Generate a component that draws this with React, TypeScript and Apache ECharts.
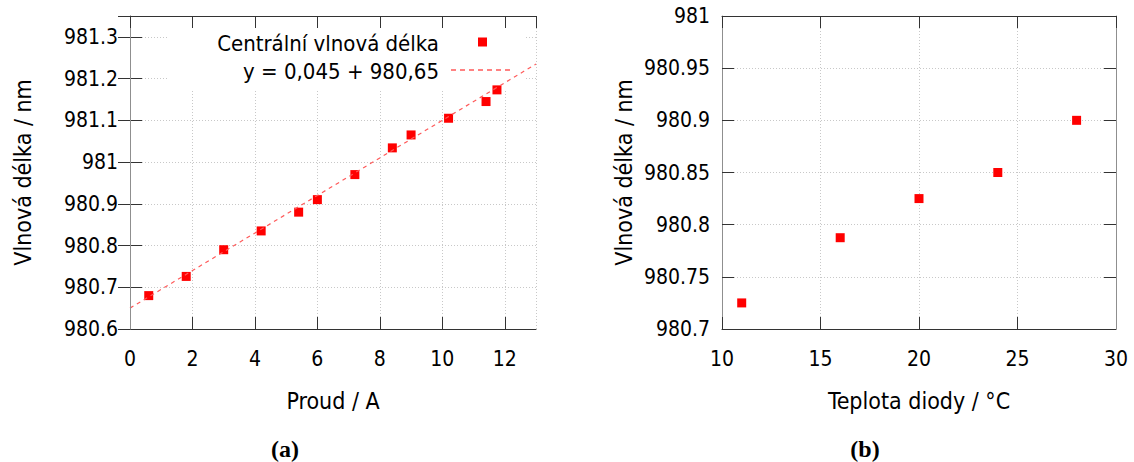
import React, { useEffect, useRef } from 'react';
import * as echarts from 'echarts';

// ---- Data ----
const currentA = [0.6, 1.8, 3.0, 4.2, 5.4, 6.0, 7.2, 8.4, 9.0, 10.2, 11.4, 11.75];
const wavelengthA = [980.68, 980.726, 980.79, 980.835, 980.88, 980.91, 980.97, 981.034, 981.065, 981.105, 981.145, 981.173];
const fitX = [0, 13];
const fitY = [980.65, 981.235];
const tempB = [11, 16, 20, 24, 28];
const wavelengthB = [980.725, 980.7875, 980.825, 980.85, 980.9];

const seriesNameA = 'Centrální vlnová délka';
const fitName = 'y = 0,045 + 980,65';
const seriesNameB = 'Centrální vlnová délka (b)';
const xTitleA = 'Proud / A';
const xTitleB = 'Teplota diody / °C';
const yTitle = 'Vlnová délka / nm';
const captionA = '(a)';
const captionB = '(b)';

const FONT = "'DejaVu Sans Condensed', 'DejaVu Sans', sans-serif";
const DARK = '#333333';
const LIGHT = '#8f8f8f';
const GRIDC = '#c8c8c8';
const RED = '#ff0000';
const FITRED = '#ff5a5a';

const tick = { show: true, inside: true, length: 12, lineStyle: { color: DARK, width: 1 } };
const split = { show: true, lineStyle: { color: GRIDC, type: [1, 2] as any, width: 1 } };
const tickLabel = (extra: any = {}) => ({ fontSize: 21, color: '#000', fontFamily: FONT, ...extra });
const nameStyle = { fontSize: 23, color: '#000', fontFamily: FONT };
const legendText = { fontSize: 22, fontFamily: FONT, fill: '#000', align: 'right', verticalAlign: 'middle' };
const captionStyle = { fontSize: 24, fontWeight: 'bold', fontFamily: "'Liberation Serif', serif", fill: '#000', align: 'center', verticalAlign: 'middle' };

export default function App() {
  const ref = useRef<HTMLDivElement>(null);
  useEffect(() => {
    if (!ref.current) return;
    const chart = echarts.init(ref.current, undefined, { renderer: 'svg' });
    const option: any = {
      animation: false,
      backgroundColor: '#ffffff',
      grid: [
        { left: 130, top: 16, width: 406, height: 313, outerBoundsMode: 'none' },
        { left: 722, top: 16, width: 394, height: 313, outerBoundsMode: 'none' },
      ],
      xAxis: [
        {
          type: 'value', gridIndex: 0, position: 'bottom', min: 0, max: 13, interval: 2,
          axisLine: { show: true, lineStyle: { color: DARK } }, axisTick: tick,
          axisLabel: tickLabel({ margin: 19, showMaxLabel: false }), splitLine: split,
          name: xTitleA, nameLocation: 'middle', nameGap: 60, nameTextStyle: nameStyle, z: 0,
        },
        {
          type: 'value', gridIndex: 0, position: 'top', min: 0, max: 13, interval: 2,
          axisLine: { show: true, lineStyle: { color: DARK } }, axisTick: tick,
          axisLabel: { show: false }, splitLine: { show: false }, z: 5,
        },
        {
          type: 'value', gridIndex: 1, position: 'bottom', min: 10, max: 30, interval: 5,
          axisLine: { show: true, lineStyle: { color: DARK } }, axisTick: tick,
          axisLabel: tickLabel({ margin: 19 }), splitLine: split,
          name: xTitleB, nameLocation: 'middle', nameGap: 60, nameTextStyle: nameStyle, z: 0,
        },
        {
          type: 'value', gridIndex: 1, position: 'top', min: 10, max: 30, interval: 5,
          axisLine: { show: true, lineStyle: { color: DARK } }, axisTick: tick,
          axisLabel: { show: false }, splitLine: { show: false }, z: 5,
        },
      ],
      yAxis: [
        {
          type: 'value', gridIndex: 0, position: 'left', min: 980.6, max: 981.35, interval: 0.1,
          axisLine: { show: true, lineStyle: { color: LIGHT } }, axisTick: tick,
          axisLabel: tickLabel({ margin: 12, showMaxLabel: false }), splitLine: split,
          name: yTitle, nameLocation: 'middle', nameGap: 96, nameRotate: 90, nameTextStyle: nameStyle, z: 0,
        },
        {
          type: 'value', gridIndex: 0, position: 'right', min: 980.6, max: 981.35, interval: 0.1,
          axisLine: { show: true, lineStyle: { color: LIGHT } }, axisTick: tick,
          axisLabel: { show: false }, splitLine: { show: false }, z: 5,
        },
        {
          type: 'value', gridIndex: 1, position: 'left', min: 980.7, max: 981, interval: 0.05,
          axisLine: { show: true, lineStyle: { color: LIGHT } }, axisTick: tick,
          axisLabel: tickLabel({ margin: 12 }), splitLine: split,
          name: yTitle, nameLocation: 'middle', nameGap: 87, nameRotate: 90, nameTextStyle: nameStyle, z: 0,
        },
        {
          type: 'value', gridIndex: 1, position: 'right', min: 980.7, max: 981, interval: 0.05,
          axisLine: { show: true, lineStyle: { color: LIGHT } }, axisTick: tick,
          axisLabel: { show: false }, splitLine: { show: false }, z: 5,
        },
      ],
      graphic: {
        elements: [
          // opaque key box (hides the grid behind the key, as in the reference)
          { type: 'rect', silent: true, z: 1, shape: { x: 168, y: 17, width: 356, height: 72 }, style: { fill: '#ffffff' } },
          // key
          { type: 'text', x: 439, y: 43, z: 10, style: { text: seriesNameA, ...legendText } },
          { type: 'rect', z: 10, shape: { x: 478, y: 37.5, width: 9, height: 9 }, style: { fill: RED } },
          { type: 'text', x: 439, y: 71, z: 10, style: { text: fitName, ...legendText } },
          {
            type: 'line', z: 10, shape: { x1: 451, y1: 70, x2: 513, y2: 70 },
            style: { stroke: FITRED, lineWidth: 1.3, lineDash: [5, 4] },
          },
          // captions
          { type: 'text', x: 285, y: 449, z: 10, style: { text: captionA, ...captionStyle } },
          { type: 'text', x: 865, y: 449, z: 10, style: { text: captionB, ...captionStyle } },
        ],
      },
      series: [
        {
          name: fitName, type: 'line', xAxisIndex: 0, yAxisIndex: 0, symbol: 'none',
          lineStyle: { color: FITRED, width: 1.2, type: [4, 4] },
          data: fitX.map((x, i) => [x, fitY[i]]),
        },
        {
          name: seriesNameA, type: 'scatter', xAxisIndex: 0, yAxisIndex: 0, symbol: 'rect', symbolSize: 9,
          itemStyle: { color: RED, opacity: 1 },
          data: currentA.map((x, i) => [x, wavelengthA[i]]),
        },
        {
          name: seriesNameB, type: 'scatter', xAxisIndex: 2, yAxisIndex: 2, symbol: 'rect', symbolSize: 9,
          itemStyle: { color: RED, opacity: 1 },
          data: tempB.map((x, i) => [x, wavelengthB[i]]),
        },
      ],
    };
    chart.setOption(option);
    return () => chart.dispose();
  }, []);
  return <div ref={ref} style={{ position: 'absolute', left: 0, top: 0, width: 1134, height: 462 }} />;
}
